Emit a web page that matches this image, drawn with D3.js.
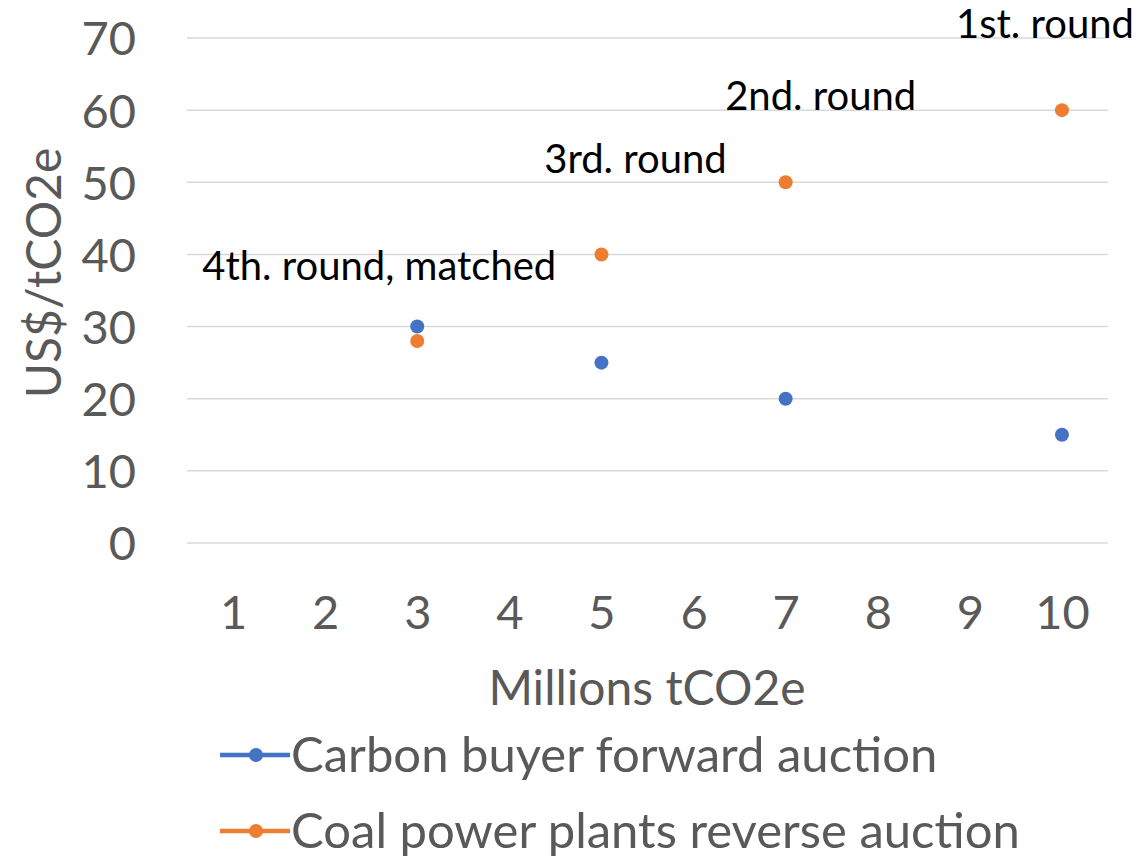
<!DOCTYPE html>
<html><head><meta charset="utf-8">
<script src="https://cdn.jsdelivr.net/npm/d3@7"></script>
<style>
html,body{margin:0;padding:0;background:#fff;}
svg{display:block;font-family:Lato, "Open Sans", sans-serif;}
</style></head>
<body>
<svg id="chart" width="1137" height="859"></svg>
<script>
const categories = [1,2,3,4,5,6,7,8,9,10];
const yTicks = [0,10,20,30,40,50,60,70];
const buyerX = [3,5,7,10];
const buyerY = [30,25,20,15];
const coalX = [3,5,7,10];
const coalY = [28,40,50,60];
const roundLabels = ["4th. round, matched","3rd. round","2nd. round","1st. round"];
const seriesNames = ["Carbon buyer forward auction","Coal power plants reverse auction"];
const colors = ["#4472C4","#ED7D31"];

const svg = d3.select("#chart");
const x = d3.scalePoint().domain(categories).range([187,1108]).padding(0.5);
const y = d3.scaleLinear().domain([0,70]).range([543,38]);

// gridlines
svg.append("g").selectAll("line").data(yTicks).join("line")
  .attr("x1",187).attr("x2",1108)
  .attr("y1",d=>y(d)).attr("y2",d=>y(d))
  .attr("stroke","#d9d9d9").attr("stroke-width",1.5);

// y axis labels
const yAxis = svg.append("g").attr("transform","translate(136,0)")
  .call(d3.axisLeft(y).tickValues(yTicks).tickSize(0).tickPadding(0));
yAxis.select(".domain").remove();
yAxis.selectAll("text").attr("font-size",47).attr("fill","#595959")
  .attr("font-family","Lato, sans-serif").attr("dy","0.36em");

// x axis labels
const xAxis = svg.append("g").attr("transform","translate(0,543)")
  .call(d3.axisBottom(x).tickSize(0).tickPadding(0));
xAxis.select(".domain").remove();
xAxis.selectAll("text").attr("font-size",47).attr("fill","#595959")
  .attr("font-family","Lato, sans-serif").attr("y",86).attr("dy",0);

// axis titles
svg.append("text").attr("x",647).attr("y",705).attr("text-anchor","middle")
  .attr("font-size",48).attr("fill","#595959").text("Millions tCO2e");
svg.append("text").attr("transform","translate(61,273) rotate(-90)").attr("text-anchor","middle")
  .attr("font-size",48).attr("fill","#595959").text("US$/tCO2e");

// points
svg.append("g").selectAll("circle").data(buyerX.map((d,i)=>[d,buyerY[i]])).join("circle")
  .attr("cx",d=>x(d[0])).attr("cy",d=>y(d[1])).attr("r",7).attr("fill",colors[0]);
svg.append("g").selectAll("circle").data(coalX.map((d,i)=>[d,coalY[i]])).join("circle")
  .attr("cx",d=>x(d[0])).attr("cy",d=>y(d[1])).attr("r",7).attr("fill",colors[1]);

// round labels, placed relative to orange points
const labOff = [[-38,-61],[34,-81],[35,-72],[-17,-72]];
svg.append("g").selectAll("text").data(roundLabels).join("text")
  .attr("x",(d,i)=>x(coalX[i])+labOff[i][0])
  .attr("y",(d,i)=>y(coalY[i])+labOff[i][1])
  .attr("text-anchor","middle").attr("font-size",40).attr("fill","#000")
  .text(d=>d);

// legend
const leg = svg.append("g").selectAll("g").data(seriesNames).join("g")
  .attr("transform",(d,i)=>`translate(220,${755+i*76})`);
leg.append("line").attr("x1",0).attr("x2",70).attr("y1",0).attr("y2",0)
  .attr("stroke",(d,i)=>colors[i]).attr("stroke-width",4.5);
leg.append("circle").attr("cx",36).attr("cy",0).attr("r",7).attr("fill",(d,i)=>colors[i]);
leg.append("text").attr("x",71).attr("y",0).attr("dy","0.35em")
  .attr("font-size",49).attr("fill","#595959").text(d=>d);
</script>
</body></html>
